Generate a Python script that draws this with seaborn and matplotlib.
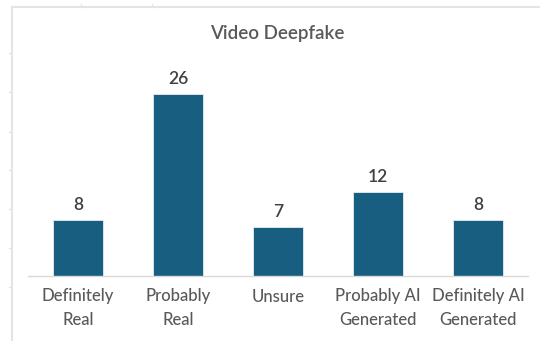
import matplotlib
matplotlib.use("Agg")
import matplotlib.pyplot as plt
from matplotlib.lines import Line2D
import seaborn as sns
import pandas as pd

categories = ["Definitely\nReal", "Probably\nReal", "Unsure", "Probably AI\nGenerated", "Definitely AI\nGenerated"]
counts = [8, 26, 7, 12, 8]
title = "Video Deepfake"

bar_color = "#175E80"
text_color = "#595959"

sns.set_theme(style="white")
plt.rcParams["font.family"] = ["Lato", "DejaVu Sans"]

df = pd.DataFrame({"category": categories, "count": counts})

fig = plt.figure(figsize=(5.4, 3.41), dpi=100)
ax = fig.add_axes([28 / 540, 1 - 276 / 341, 500 / 540, 210 / 341])

sns.barplot(data=df, x="category", y="count", color=bar_color, width=0.5,
            saturation=1, edgecolor="#E6EEF2", linewidth=0.6, ax=ax)

for i, v in enumerate(counts):
    ax.text(i, v + 1.0, str(v), ha="center", va="bottom", fontsize=12.5,
            fontweight="semibold", color="#404040")

ax.set_xlim(-0.5, 4.5)
ax.set_ylim(0, 30)
ax.set_xlabel("")
ax.set_ylabel("")
ax.set_yticks([])
ax.tick_params(axis="x", length=0, pad=9, labelsize=12, labelcolor=text_color)
for lbl in ax.get_xticklabels():
    lbl.set_linespacing(1.6)
    lbl.set_fontweight("medium")
for s in ["top", "right", "left"]:
    ax.spines[s].set_visible(False)
ax.spines["bottom"].set_color("#D9D9D9")
ax.spines["bottom"].set_linewidth(1.0)

fig.text(277 / 540, 1 - 33 / 341, title, ha="center", va="center",
         fontsize=13.5, fontweight="semibold", color=text_color)

# faint sheet grid lines framing the chart
grid = "#E4E4E4"
fig.add_artist(Line2D([12 / 540, 1], [1 - 7 / 341] * 2, color=grid, lw=1.5, transform=fig.transFigure))
fig.add_artist(Line2D([12 / 540] * 2, [0, 1 - 7 / 341], color=grid, lw=1.5, transform=fig.transFigure))
for yy in [53, 92, 132, 170, 209, 248, 287]:
    fig.add_artist(Line2D([9 / 540, 12 / 540], [1 - yy / 341] * 2, color=grid, lw=1, transform=fig.transFigure))
for xx in [81, 152]:
    fig.add_artist(Line2D([xx / 540] * 2, [1 - 7 / 341, 1 - 4 / 341], color=grid, lw=1, transform=fig.transFigure))

fig.savefig("out.png", dpi=100)
